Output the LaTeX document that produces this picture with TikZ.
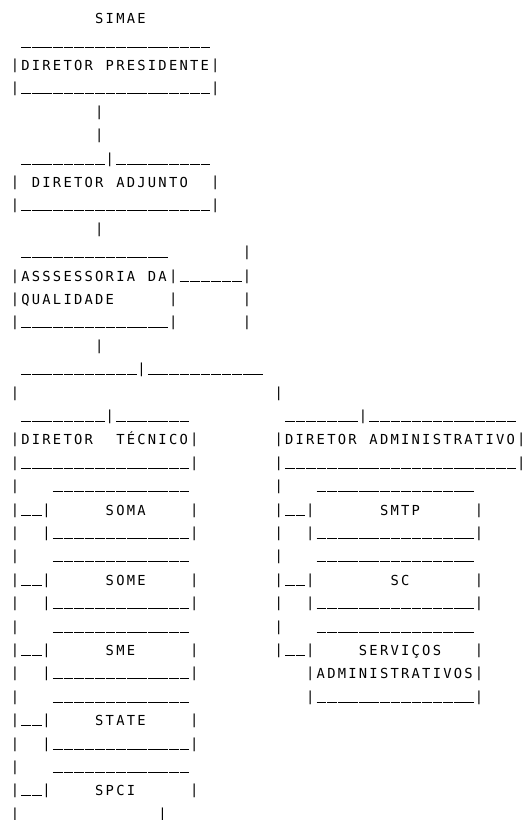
\documentclass[tikz,border=0pt]{standalone}
\usepackage{fontspec}
\newfontfamily\asciifont{DejaVu Sans Mono}
\ExplSyntaxOn
\cs_new:Npn \asciirep #1#2 { \prg_replicate:nn {#1} {#2} }
\tl_new:N \l_ascii_line_tl
\str_new:N \l_ascii_line_str
\dim_const:Nn \c_ascii_cell_dim { 10.55pt }
\NewDocumentCommand \asciiline { m }
  {
    \tl_set:Nx \l_ascii_line_tl {#1}
    \str_set:NV \l_ascii_line_str \l_ascii_line_tl
    \str_map_inline:Nn \l_ascii_line_str
      {
        \str_if_eq:nnTF {##1} {.}
          { \hbox_to_wd:nn { \c_ascii_cell_dim } { \hfil } }
          {
            \str_if_eq:nnTF {##1} {_}
              { \hbox_to_wd:nn { \c_ascii_cell_dim } { \rule[0pt]{9.7pt}{1.2pt} \hfil } }
              {
                \str_if_eq:nnTF {##1} {|}
                  { \hbox_to_wd:nn { \c_ascii_cell_dim } { \raise 1.5pt \hbox{##1} \hfil } }
                  { \hbox_to_wd:nn { \c_ascii_cell_dim } { ##1 \hfil } }
              }
          }
      }
  }
\ExplSyntaxOff
\tikzset{
  asciirow/.style={anchor=base west, inner sep=0pt, outer sep=0pt, text=black,
    font=\asciifont\fontsize{13.8pt}{16pt}\selectfont}
}
\newcommand\R[1]{\asciirep{#1}{_}}
\newcommand\D[1]{\asciirep{#1}{.}}
\begin{document}
\begin{tikzpicture}[x=1pt,y=1pt]
\fill[white] (0,0) rectangle (529,820);
\useasboundingbox (0,0) rectangle (529,820);
\def\rowy#1{round(795.8-23.4*(#1-1))}
\node[asciirow] (r01) at (10.8,{\rowy{1}}) {\asciiline{\D{8}SIMAE}};
\node[asciirow] (r02) at (10.8,{\rowy{2}}) {\asciiline{.\R{18}}};
\node[asciirow] (r03) at (10.8,{\rowy{3}}) {\asciiline{|DIRETOR.PRESIDENTE|}};
\node[asciirow] (r04) at (10.8,{\rowy{4}}) {\asciiline{|\R{18}|}};
\node[asciirow] (r05) at (10.8,{\rowy{5}}) {\asciiline{\D{8}|}};
\node[asciirow] (r06) at (10.8,{\rowy{6}}) {\asciiline{\D{8}|}};
\node[asciirow] (r07) at (10.8,{\rowy{7}}) {\asciiline{.\R{8}|\R{9}}};
\node[asciirow] (r08) at (10.8,{\rowy{8}}) {\asciiline{|.DIRETOR.ADJUNTO..|}};
\node[asciirow] (r09) at (10.8,{\rowy{9}}) {\asciiline{|\R{18}|}};
\node[asciirow] (r10) at (10.8,{\rowy{10}}) {\asciiline{\D{8}|}};
\node[asciirow] (r11) at (10.8,{\rowy{11}}) {\asciiline{.\R{14}\D{7}|}};
\node[asciirow] (r12) at (10.8,{\rowy{12}}) {\asciiline{|ASSSESSORIA.DA|\R{6}|}};
\node[asciirow] (r13) at (10.8,{\rowy{13}}) {\asciiline{|QUALIDADE\D{5}|\D{6}|}};
\node[asciirow] (r14) at (10.8,{\rowy{14}}) {\asciiline{|\R{14}|\D{6}|}};
\node[asciirow] (r15) at (10.8,{\rowy{15}}) {\asciiline{\D{8}|}};
\node[asciirow] (r16) at (10.8,{\rowy{16}}) {\asciiline{.\R{11}|\R{11}}};
\node[asciirow] (r17) at (10.8,{\rowy{17}}) {\asciiline{|\D{24}|}};
\node[asciirow] (r18) at (10.8,{\rowy{18}}) {\asciiline{.\R{8}|\R{7}\D{9}\R{7}|\R{14}}};
\node[asciirow] (r19) at (10.8,{\rowy{19}}) {\asciiline{|DIRETOR..TÉCNICO|\D{7}|DIRETOR.ADMINISTRATIVO|}};
\node[asciirow] (r20) at (10.8,{\rowy{20}}) {\asciiline{|\R{16}|\D{7}|\R{22}|}};
\node[asciirow] (r21) at (10.8,{\rowy{21}}) {\asciiline{|\D{3}\R{13}\D{8}|\D{3}\R{15}}};
\node[asciirow] (r22) at (10.8,{\rowy{22}}) {\asciiline{|__|\D{5}SOMA\D{4}|\D{7}|__|\D{6}SMTP\D{5}|}};
\node[asciirow] (r23) at (10.8,{\rowy{23}}) {\asciiline{|..|\R{13}|\D{7}|..|\R{15}|}};
\node[asciirow] (r24) at (10.8,{\rowy{24}}) {\asciiline{|\D{3}\R{13}\D{8}|\D{3}\R{15}}};
\node[asciirow] (r25) at (10.8,{\rowy{25}}) {\asciiline{|__|\D{5}SOME\D{4}|\D{7}|__|\D{7}SC\D{6}|}};
\node[asciirow] (r26) at (10.8,{\rowy{26}}) {\asciiline{|..|\R{13}|\D{7}|..|\R{15}|}};
\node[asciirow] (r27) at (10.8,{\rowy{27}}) {\asciiline{|\D{3}\R{13}\D{8}|\D{3}\R{15}}};
\node[asciirow] (r28) at (10.8,{\rowy{28}}) {\asciiline{|__|\D{5}SME\D{5}|\D{7}|__|\D{4}SERVIÇOS\D{3}|}};
\node[asciirow] (r29) at (10.8,{\rowy{29}}) {\asciiline{|..|\R{13}|\D{10}|ADMINISTRATIVOS|}};
\node[asciirow] (r30) at (10.8,{\rowy{30}}) {\asciiline{|\D{3}\R{13}\D{11}|\R{15}|}};
\node[asciirow] (r31) at (10.8,{\rowy{31}}) {\asciiline{|__|\D{4}STATE\D{4}|}};
\node[asciirow] (r32) at (10.8,{\rowy{32}}) {\asciiline{|..|\R{13}|}};
\node[asciirow] (r33) at (10.8,{\rowy{33}}) {\asciiline{|\D{3}\R{13}}};
\node[asciirow] (r34) at (10.8,{\rowy{34}}) {\asciiline{|__|\D{4}SPCI\D{5}|}};
\node[asciirow] (r35) at (10.8,{\rowy{35}}) {\asciiline{|\D{13}|}};
\end{tikzpicture}
\end{document}
